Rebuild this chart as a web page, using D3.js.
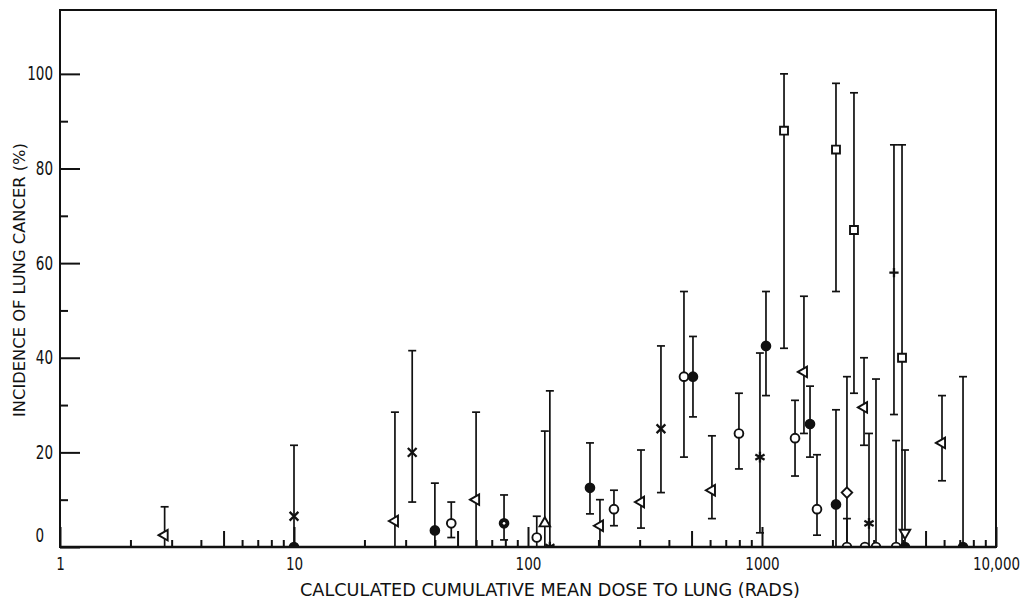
<!DOCTYPE html>
<html lang="en">
<head>
<meta charset="UTF-8">
<title>Incidence of lung cancer</title>
<script src="https://d3js.org/d3.v7.min.js"></script>
<style>
    body { margin: 0; background: #fff; }
    text { font-family: "Liberation Sans Narrow", "DejaVu Sans Condensed", sans-serif; fill: #111; }
</style>
</head>
<body>
<svg width="1032" height="602"></svg>
<script type="text/javascript">
    // dose (rads), incidence (%), error bar ends, marker kind
    var dose      = [2.8, 10, 10, 27, 32, 40, 47, 60, 79, 109, 118, 124, 184, 203, 233, 304, 370, 464, 507, 611,
                     797, 980, 1040, 1242, 1384, 1511, 1604, 1718, 2071, 2071, 2307, 2307, 2472, 2729, 2754, 2866,
                     3070, 3664, 3741, 3966, 4083, 4083, 5878, 7229];
    var incidence = [2.5, 6.5, 0, 5.5, 20, 3.5, 5, 10, 5, 2, 5, 0, 12.5, 4.5, 8, 9.5, 25, 36, 36, 12,
                     24, 19, 42.5, 88, 23, 37, 26, 8, 84, 9, 11.5, 0, 67, 29.5, 0, 5,
                     0, 58, 0, 40, 3, 0, 22, 0];
    var errLow    = [0, 0, 0, 0, 9.5, 0, 2, 0, 1.5, 0, 0, 0, 7, 0, 4.5, 4, 11.5, 19, 27.5, 6,
                     16.5, 3, 32, 42, 15, 24, 19, 2.5, 54, 0, 0, 0, 32.5, 21.5, 0, 0,
                     0, 28, 0, 0, 0, 0, 14, 0];
    var errHigh   = [8.5, 21.5, 0, 28.5, 41.5, 13.5, 9.5, 28.5, 11, 6.5, 24.5, 33, 22, 10, 12, 20.5, 42.5, 54, 44.5, 23.5,
                     32.5, 41, 54, 100, 31, 53, 34, 19.5, 98, 29, 36, 6, 96, 40, 0, 24,
                     35.5, 85, 22.5, 85, 20.5, 0, 32, 36];
    var marker    = ["triL", "times", "disc", "triL", "times", "disc", "circle", "triL", "dot", "circle", "triU", "star",
                     "disc", "triL", "circle", "triL", "times", "circle", "disc", "triL",
                     "circle", "star", "disc", "square", "circle", "triL", "disc", "circle", "square", "disc",
                     "diamond", "circle", "square", "triL", "circle", "star",
                     "circle", "plus", "circle", "square", "triD", "disc", "triL", "disc"];

    var xTicks = [1, 10, 100, 1000, 10000];
    var xTickLabels = ["1", "10", "100", "1000", "10,000"];
    var yTicks = [0, 20, 40, 60, 80, 100];
    var yMinorTicks = [10, 30, 50, 70, 90];

    var width = 1032, height = 602;
    var plotLeft = 60, plotRight = 996, plotTop = 10, plotBottom = 547;
    var svg = d3.select("svg").attr("width", width).attr("height", height);

    var x = d3.scaleLog().domain([1, 10000]).range([plotLeft, plotRight]);
    var y = d3.scaleLinear().domain([0, 113.5]).range([plotBottom, plotTop]);

    var points = dose.map(function (d, i) {
        return { dose: d, value: incidence[i], lo: errLow[i], hi: errHigh[i], kind: marker[i] };
    });

    // narrow figures like the typewriter-ish original
    function squeeze(sel) {
        sel.attr("lengthAdjust", "spacingAndGlyphs")
            .attr("textLength", function () {
                var s = this.textContent;
                return s.replace(/,/g, "").length * 8.6 + (s.split(",").length - 1) * 4;
            });
    }

    // y axis, ticks point inward
    var yAxis = svg.append("g")
        .attr("transform", "translate(" + plotLeft + ",0)")
        .call(d3.axisLeft(y).tickValues(yTicks).tickSizeInner(-20).tickSizeOuter(0).tickPadding(7));
    yAxis.selectAll("text").style("font-size", "19px").call(squeeze);
    yAxis.selectAll("text").filter(function (d) { return d === 0; })
        .attr("x", -16).attr("dy", "-0.3em");
    svg.append("g")
        .attr("transform", "translate(" + plotLeft + ",0)")
        .call(d3.axisLeft(y).tickValues(yMinorTicks).tickSizeInner(-8).tickSizeOuter(0).tickFormat(""));

    // x axis, decades + minor log ticks
    var xAxis = svg.append("g")
        .attr("transform", "translate(0," + plotBottom + ")")
        .call(d3.axisBottom(x).tickValues(xTicks).tickSizeInner(-20).tickSizeOuter(0).tickPadding(10)
            .tickFormat(function (d, i) { return xTickLabels[i]; }));
    xAxis.selectAll("text").style("font-size", "18px").call(squeeze);
    var minor = x.ticks().filter(function (d) { return xTicks.indexOf(d) < 0; });
    svg.append("g")
        .attr("transform", "translate(0," + plotBottom + ")")
        .call(d3.axisBottom(x).tickValues(minor.filter(function (d) { return String(d)[0] !== "5"; }))
            .tickSizeInner(-7).tickSizeOuter(0).tickFormat(""));
    svg.append("g")
        .attr("transform", "translate(0," + plotBottom + ")")
        .call(d3.axisBottom(x).tickValues(minor.filter(function (d) { return String(d)[0] === "5"; }))
            .tickSizeInner(-16).tickSizeOuter(0).tickFormat(""));

    svg.selectAll(".domain").remove();
    svg.selectAll(".tick line").attr("stroke", "#111").attr("stroke-width", 2);

    // frame
    svg.append("rect")
        .attr("x", plotLeft).attr("y", plotTop)
        .attr("width", plotRight - plotLeft).attr("height", plotBottom - plotTop)
        .attr("fill", "none").attr("stroke", "#111").attr("stroke-width", 2);

    svg.append("clipPath").attr("id", "plotclip")
        .append("rect")
        .attr("x", plotLeft).attr("y", plotTop)
        .attr("width", plotRight - plotLeft).attr("height", plotBottom - plotTop);

    var plot = svg.append("g").attr("clip-path", "url(#plotclip)");

    // error bars
    var bars = plot.selectAll("g.bar")
        .data(points.filter(function (d) { return d.hi > d.lo; }))
        .enter().append("g").attr("class", "bar")
        .attr("stroke", "#111").attr("stroke-width", 1.7);
    bars.append("line")
        .attr("x1", function (d) { return x(d.dose); }).attr("x2", function (d) { return x(d.dose); })
        .attr("y1", function (d) { return y(d.lo); }).attr("y2", function (d) { return y(d.hi); });
    bars.append("line")
        .attr("x1", function (d) { return x(d.dose) - 4; }).attr("x2", function (d) { return x(d.dose) + 4; })
        .attr("y1", function (d) { return y(d.hi); }).attr("y2", function (d) { return y(d.hi); });
    bars.append("line")
        .attr("x1", function (d) { return x(d.dose) - 4; }).attr("x2", function (d) { return x(d.dose) + 4; })
        .attr("y1", function (d) { return y(d.lo); }).attr("y2", function (d) { return y(d.lo); });

    // markers
    var shapes = {
        triL: [d3.symbolTriangle2, 80, -90], triU: [d3.symbolTriangle2, 80, 0], triD: [d3.symbolTriangle2, 80, 180],
        circle: [d3.symbolCircle, 60, 0], disc: [d3.symbolCircle, 60, 0], dot: [d3.symbolCircle, 60, 0],
        square: [d3.symbolSquare2, 80, 0], diamond: [d3.symbolDiamond2, 70, 0],
        times: [d3.symbolTimes, 52, 0], star: [d3.symbolAsterisk, 80, 0], plus: [d3.symbolPlus, 30, 0]
    };
    var lineOnly = { times: 1, star: 1, plus: 1 };

    plot.selectAll("path.mark")
        .data(points)
        .enter().append("path").attr("class", "mark")
        .attr("transform", function (d) {
            return "translate(" + x(d.dose) + "," + y(d.value) + ") rotate(" + shapes[d.kind][2] + ")";
        })
        .attr("d", function (d) { return d3.symbol(shapes[d.kind][0], shapes[d.kind][1])(); })
        .attr("fill", function (d) {
            if (lineOnly[d.kind]) return "none";
            return (d.kind === "disc" || d.kind === "dot") ? "#111" : "#fff";
        })
        .attr("stroke", "#111")
        .attr("stroke-width", function (d) { return lineOnly[d.kind] ? 2.3 : 1.9; });

    plot.selectAll("circle.dotc")
        .data(points.filter(function (d) { return d.kind === "dot"; }))
        .enter().append("circle")
        .attr("cx", function (d) { return x(d.dose); })
        .attr("cy", function (d) { return y(d.value); })
        .attr("r", 1.3).attr("fill", "#fff");

    // baseline drawn over the half-hidden zero markers
    svg.append("line")
        .attr("x1", plotLeft).attr("x2", plotRight)
        .attr("y1", plotBottom).attr("y2", plotBottom)
        .attr("stroke", "#111").attr("stroke-width", 2.6);

    // axis titles
    svg.append("text")
        .attr("x", 550).attr("y", 596)
        .attr("text-anchor", "middle")
        .attr("textLength", 500).attr("lengthAdjust", "spacingAndGlyphs")
        .style("font-size", "17px")
        .text("CALCULATED CUMULATIVE MEAN DOSE TO LUNG (RADS)");

    svg.append("text")
        .attr("transform", "translate(25,280) rotate(-90)")
        .attr("text-anchor", "middle")
        .attr("textLength", 274).attr("lengthAdjust", "spacingAndGlyphs")
        .style("font-size", "16px")
        .text("INCIDENCE OF LUNG CANCER (%)");
</script>
</body>
</html>
